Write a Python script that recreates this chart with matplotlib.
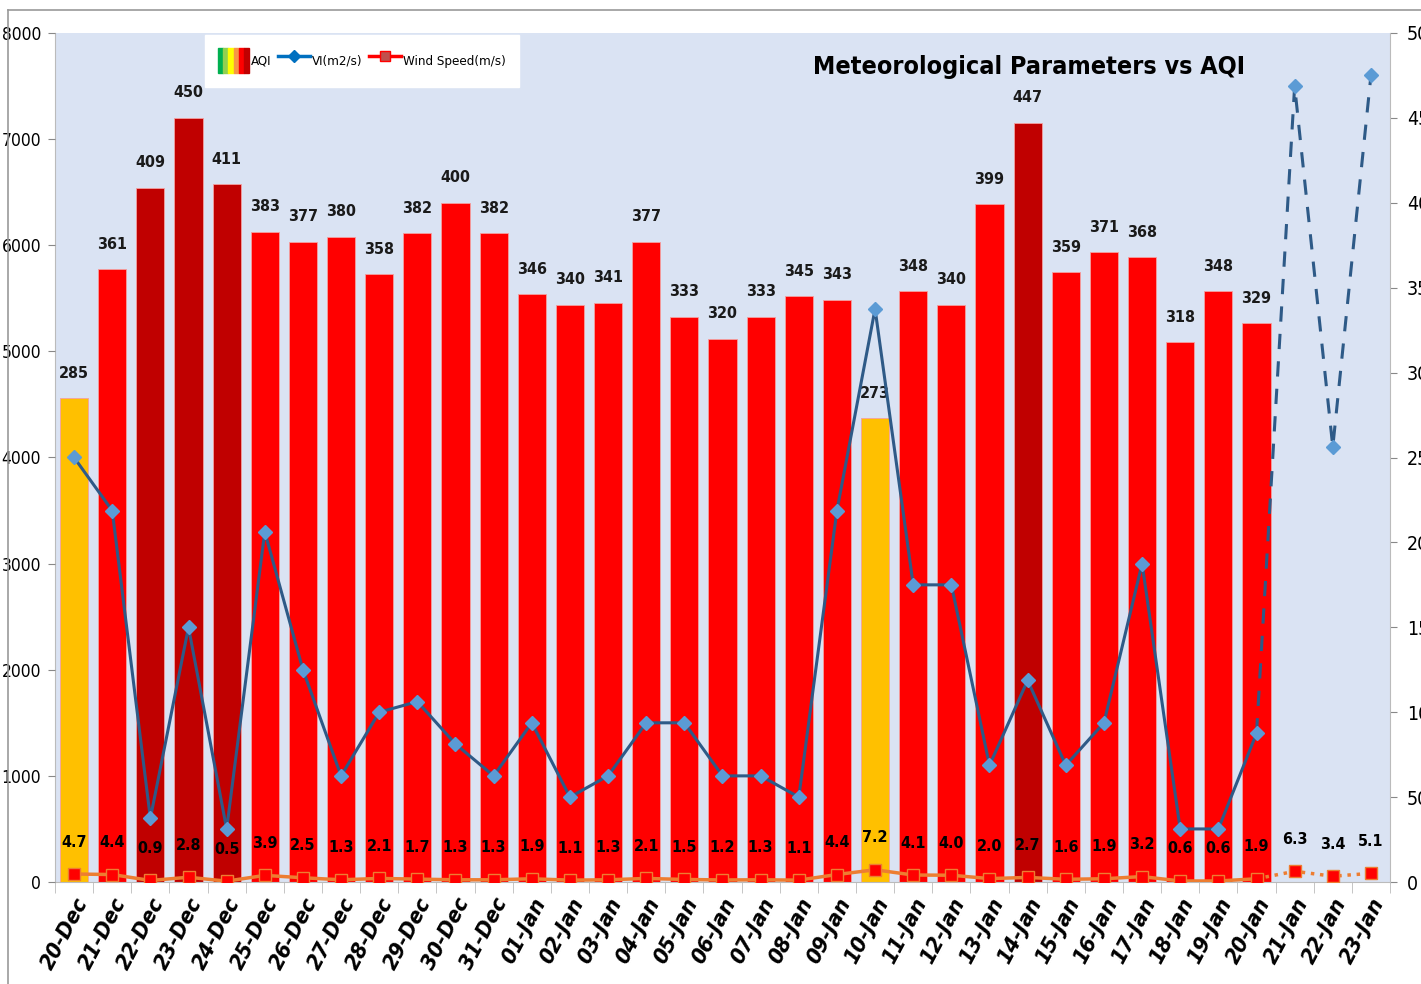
import matplotlib
matplotlib.use("Agg")
import matplotlib.pyplot as plt
from matplotlib.patches import Rectangle
from matplotlib.lines import Line2D
from matplotlib.legend_handler import HandlerTuple
import numpy as np

plt.rcParams['font.family'] = ['DejaVu Sans']
plt.rcParams['font.stretch'] = 'condensed'

dates = ['20-Dec', '21-Dec', '22-Dec', '23-Dec', '24-Dec', '25-Dec', '26-Dec', '27-Dec',
         '28-Dec', '29-Dec', '30-Dec', '31-Dec', '01-Jan', '02-Jan', '03-Jan', '04-Jan',
         '05-Jan', '06-Jan', '07-Jan', '08-Jan', '09-Jan', '10-Jan', '11-Jan', '12-Jan',
         '13-Jan', '14-Jan', '15-Jan', '16-Jan', '17-Jan', '18-Jan', '19-Jan', '20-Jan',
         '21-Jan', '22-Jan', '23-Jan']

aqi = [285, 361, 409, 450, 411, 383, 377, 380, 358, 382, 400, 382,
       346, 340, 341, 377, 333, 320, 333, 345, 343, 273, 348, 340,
       399, 447, 359, 371, 368, 318, 348, 329]

vi = [4000, 3500, 600, 2400, 500, 3300, 2000, 1000, 1600, 1700, 1300, 1000,
      1500, 800, 1000, 1500, 1500, 1000, 1000, 800, 3500, 5400, 2800, 2800,
      1100, 1900, 1100, 1500, 3000, 500, 500, 1400, 7500, 4100, 7600]

wind = [4.7, 4.4, 0.9, 2.8, 0.5, 3.9, 2.5, 1.3, 2.1, 1.7, 1.3, 1.3,
        1.9, 1.1, 1.3, 2.1, 1.5, 1.2, 1.3, 1.1, 4.4, 7.2, 4.1, 4.0,
        2.0, 2.7, 1.6, 1.9, 3.2, 0.6, 0.6, 1.9, 6.3, 3.4, 5.1]

n_obs = len(aqi)  # observed days, the rest is forecast


def aqi_color(v):
    if v > 400:
        return '#C00000'
    if v > 300:
        return '#FF0000'
    return '#FFC000'


fig = plt.figure(figsize=(14.21, 9.84), dpi=100)
fig.patch.set_facecolor('white')
ax = fig.add_axes([55 / 1421, 102 / 984, 1335 / 1421, 849 / 984])
ax.set_facecolor('#DAE3F3')
x = np.arange(len(dates))

# AQI bars + wind on the right (0-500) scale
bar_cols = [aqi_color(v) for v in aqi]
ax.bar(x[:n_obs], aqi, width=0.74, color=bar_cols, edgecolor='#F4A0A0', linewidth=0.6, zorder=2)
for xi, v in zip(x, aqi):
    ax.annotate(str(v), (xi, v), xytext=(0, 25), textcoords='offset pixels',
                ha='center', va='center', fontsize=11.5, fontweight='bold', color='#1a1a1a')

ax.plot(x[:n_obs], wind[:n_obs], color='#ED7D31', lw=2.5, zorder=3)
ax.plot(x[n_obs - 1:], wind[n_obs - 1:], color='#ED7D31', lw=2.5, ls=':', zorder=3)
ax.plot(x, wind, ls='none', marker='s', ms=8, mfc='#FF0000', mec='#ED7D31', mew=1, zorder=4)
for xi, w in zip(x, wind):
    ax.annotate(f'{w:.1f}', (xi, w), xytext=(0, 32), textcoords='offset pixels',
                ha='center', va='center', fontsize=11.5, fontweight='bold', color='black')

ax.set_xlim(-0.5, len(dates) - 0.5)
ax.set_ylim(0, 500)

ax.set_xticks(x)
ax.set_xticklabels(dates, rotation=62, ha='right', rotation_mode='anchor',
                   fontsize=16, fontweight='bold', fontstyle='italic')
ax.tick_params(axis='x', length=0, pad=9)
ax.set_xticks(np.arange(-0.5, len(dates), 1), minor=True)
ax.tick_params(axis='x', which='minor', length=8, color='#BBBBBB')
ax.spines['top'].set_visible(False)
for s in ['left', 'right', 'bottom']:
    ax.spines[s].set_color('#BBBBBB')

# VI on the left (0-8000) scale
ax2 = ax.twinx()
ax2.patch.set_visible(False)
ax2.plot(x[:n_obs], vi[:n_obs], color='#2E5A87', lw=2.2, zorder=5)
ax2.plot(x[n_obs - 1:], vi[n_obs - 1:], color='#2E5A87', lw=2.2, ls=(0, (5, 4)), zorder=5)
ax2.plot(x, vi, ls='none', marker='D', ms=7, mfc='#5B9BD5', mec='#5B9BD5', zorder=6)
ax2.set_ylim(0, 8000)
ax2.yaxis.tick_left()
ax2.set_yticks(np.arange(0, 8001, 1000))
ax2.tick_params(axis='y', labelsize=12.5, colors='#888888', labelcolor='black', length=5, pad=5)
for s in ['top', 'right', 'left', 'bottom']:
    ax2.spines[s].set_visible(False)

# right scale ticks for AQI (after twinx, which moves them left)
ax.yaxis.tick_right()
ax.set_yticks(np.arange(0, 501, 50))
ax.tick_params(axis='y', labelsize=14, colors='#888888', labelcolor='black', length=5, pad=7)

ax.text(0.73, 0.96, 'Meteorological Parameters vs AQI', transform=ax.transAxes,
        ha='center', va='center', fontsize=18, fontweight='bold')

# legend
aqi_patch = tuple(Rectangle((0, 0), 1, 1, color=c) for c in
                  ['#00B050', '#92D050', '#FFFF00', '#F79646', '#FF0000', '#C00000'])
vi_h = Line2D([], [], color='#0070C0', lw=2.5, marker='D', ms=6, mfc='#0070C0')
wind_h = Line2D([], [], color='#FF0000', lw=2.5, marker='s', ms=7, mfc='#C0504D', mec='#FF0000')
leg = ax.legend([aqi_patch, vi_h, wind_h], ['AQI', 'VI(m2/s)', 'Wind Speed(m/s)'],
                handler_map={tuple: HandlerTuple(ndivide=None, pad=0)},
                loc='upper left', bbox_to_anchor=(0.112, 0.998), borderaxespad=0,
                ncol=3, fontsize=9.5,
                frameon=True, fancybox=False, edgecolor='white', facecolor='white',
                framealpha=1, handlelength=2.4, columnspacing=0.5, handletextpad=0.15,
                borderpad=1.0, handleheight=2.6)
leg.set_zorder(10)

# outer border of the chart area
fig.add_artist(Line2D([8 / 1421, 8 / 1421], [0, 1 - 10 / 984], color='#999999', lw=1.2))
fig.add_artist(Line2D([8 / 1421, 1], [1 - 10 / 984, 1 - 10 / 984], color='#999999', lw=1.2))

fig.savefig('out.png', dpi=100)
